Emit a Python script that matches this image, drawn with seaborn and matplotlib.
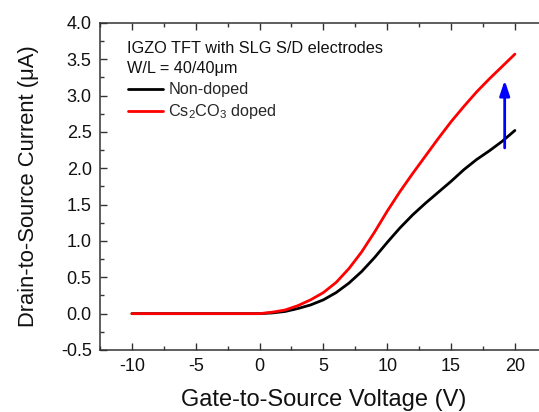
import matplotlib
matplotlib.use("Agg")
import matplotlib.pyplot as plt
import seaborn as sns
import pandas as pd

# transfer curves
vgs = [-10, -8, -6, -4, -2, 0, 1, 2, 3, 4, 5, 6, 7, 8, 9, 10,
       11, 12, 13, 14, 15, 16, 17, 18, 19, 20]
ids_non_doped = [0.0, 0.0, 0.0, 0.0, 0.0, 0.0, 0.01, 0.03, 0.07, 0.12, 0.19, 0.29,
                 0.42, 0.58, 0.77, 0.98, 1.18, 1.36, 1.52, 1.67, 1.82, 1.98,
                 2.12, 2.24, 2.37, 2.52]
ids_doped = [0.0, 0.0, 0.0, 0.0, 0.0, 0.0, 0.02, 0.05, 0.11, 0.19, 0.29, 0.43,
             0.62, 0.85, 1.12, 1.41, 1.68, 1.93, 2.17, 2.41, 2.64, 2.85,
             3.05, 3.23, 3.40, 3.57]

arrow_x = 19.2
arrow_from = 2.28
arrow_to = 3.21

df = pd.DataFrame({"Vgs": vgs, "non": ids_non_doped, "doped": ids_doped})

sns.set_style("ticks")
plt.rcParams["font.family"] = ["Liberation Sans", "DejaVu Sans"]
plt.rcParams["mathtext.default"] = "regular"

fig = plt.figure(figsize=(5.39, 4.12), dpi=100)
ax = fig.add_axes([0.1855, 0.1505, 0.829, 0.794])

sns.lineplot(data=df, x="Vgs", y="non", color="black", linewidth=2.0,
             label="Non-doped", ax=ax)
sns.lineplot(data=df, x="Vgs", y="doped", color="#ff0000", linewidth=2.0,
             label="Cs$_2$CO$_3$ doped", ax=ax)

ax.annotate("", xy=(arrow_x, arrow_to), xytext=(arrow_x, arrow_from),
            arrowprops=dict(arrowstyle="-|>,head_length=0.6,head_width=0.2",
                            color="#0000ff", lw=2, mutation_scale=15,
                            shrinkA=0, shrinkB=0))

ax.set_xlim(-12.5, 22.5)
ax.set_ylim(-0.5, 4.0)
ax.set_xticks([-10, -5, 0, 5, 10, 15, 20])
ax.set_xticks([-12.5, -7.5, -2.5, 2.5, 7.5, 12.5, 17.5], minor=True)
ax.set_yticks([-0.5, 0.0, 0.5, 1.0, 1.5, 2.0, 2.5, 3.0, 3.5, 4.0])
ax.set_yticks([y + 0.25 for y in [-0.5, 0.0, 0.5, 1.0, 1.5, 2.0, 2.5, 3.0, 3.5]],
              minor=True)
ax.set_xticklabels(["-10", "-5", "0", "5", "10", "15", "20"])
ax.set_yticklabels(["-0.5", "0.0", "0.5", "1.0", "1.5", "2.0", "2.5",
                    "3.0", "3.5", "4.0"])

ax.tick_params(which="both", direction="in", top=True, right=False,
               color="#333333", width=1.0, labelsize=13, labelcolor="#111111")
ax.tick_params(which="major", length=5, pad=6)
ax.tick_params(which="minor", length=3)
for side in ["left", "bottom", "top"]:
    ax.spines[side].set_color("#333333")
    ax.spines[side].set_linewidth(1.1)
ax.spines["right"].set_visible(False)

ax.set_xlabel("Gate-to-Source Voltage (V)", fontsize=17, labelpad=10,
              color="#111111")
ax.set_ylabel("Drain-to-Source Current (\u03bcA)", fontsize=15.8, labelpad=16,
              color="#111111")

ax.text(0.06, 0.923, "IGZO TFT with SLG S/D electrodes", transform=ax.transAxes,
        fontsize=11.7, va="center", ha="left", color="#111111")
ax.text(0.06, 0.862, "W/L = 40/40\u03bcm", transform=ax.transAxes,
        fontsize=11.7, va="center", ha="left", color="#111111")
ax.legend(loc="upper left", bbox_to_anchor=(0.062, 0.818), frameon=False,
          fontsize=11.7, handlelength=2.2, handletextpad=0.3,
          borderpad=0, borderaxespad=0, labelspacing=0.3)

fig.savefig("out.png", dpi=100)
